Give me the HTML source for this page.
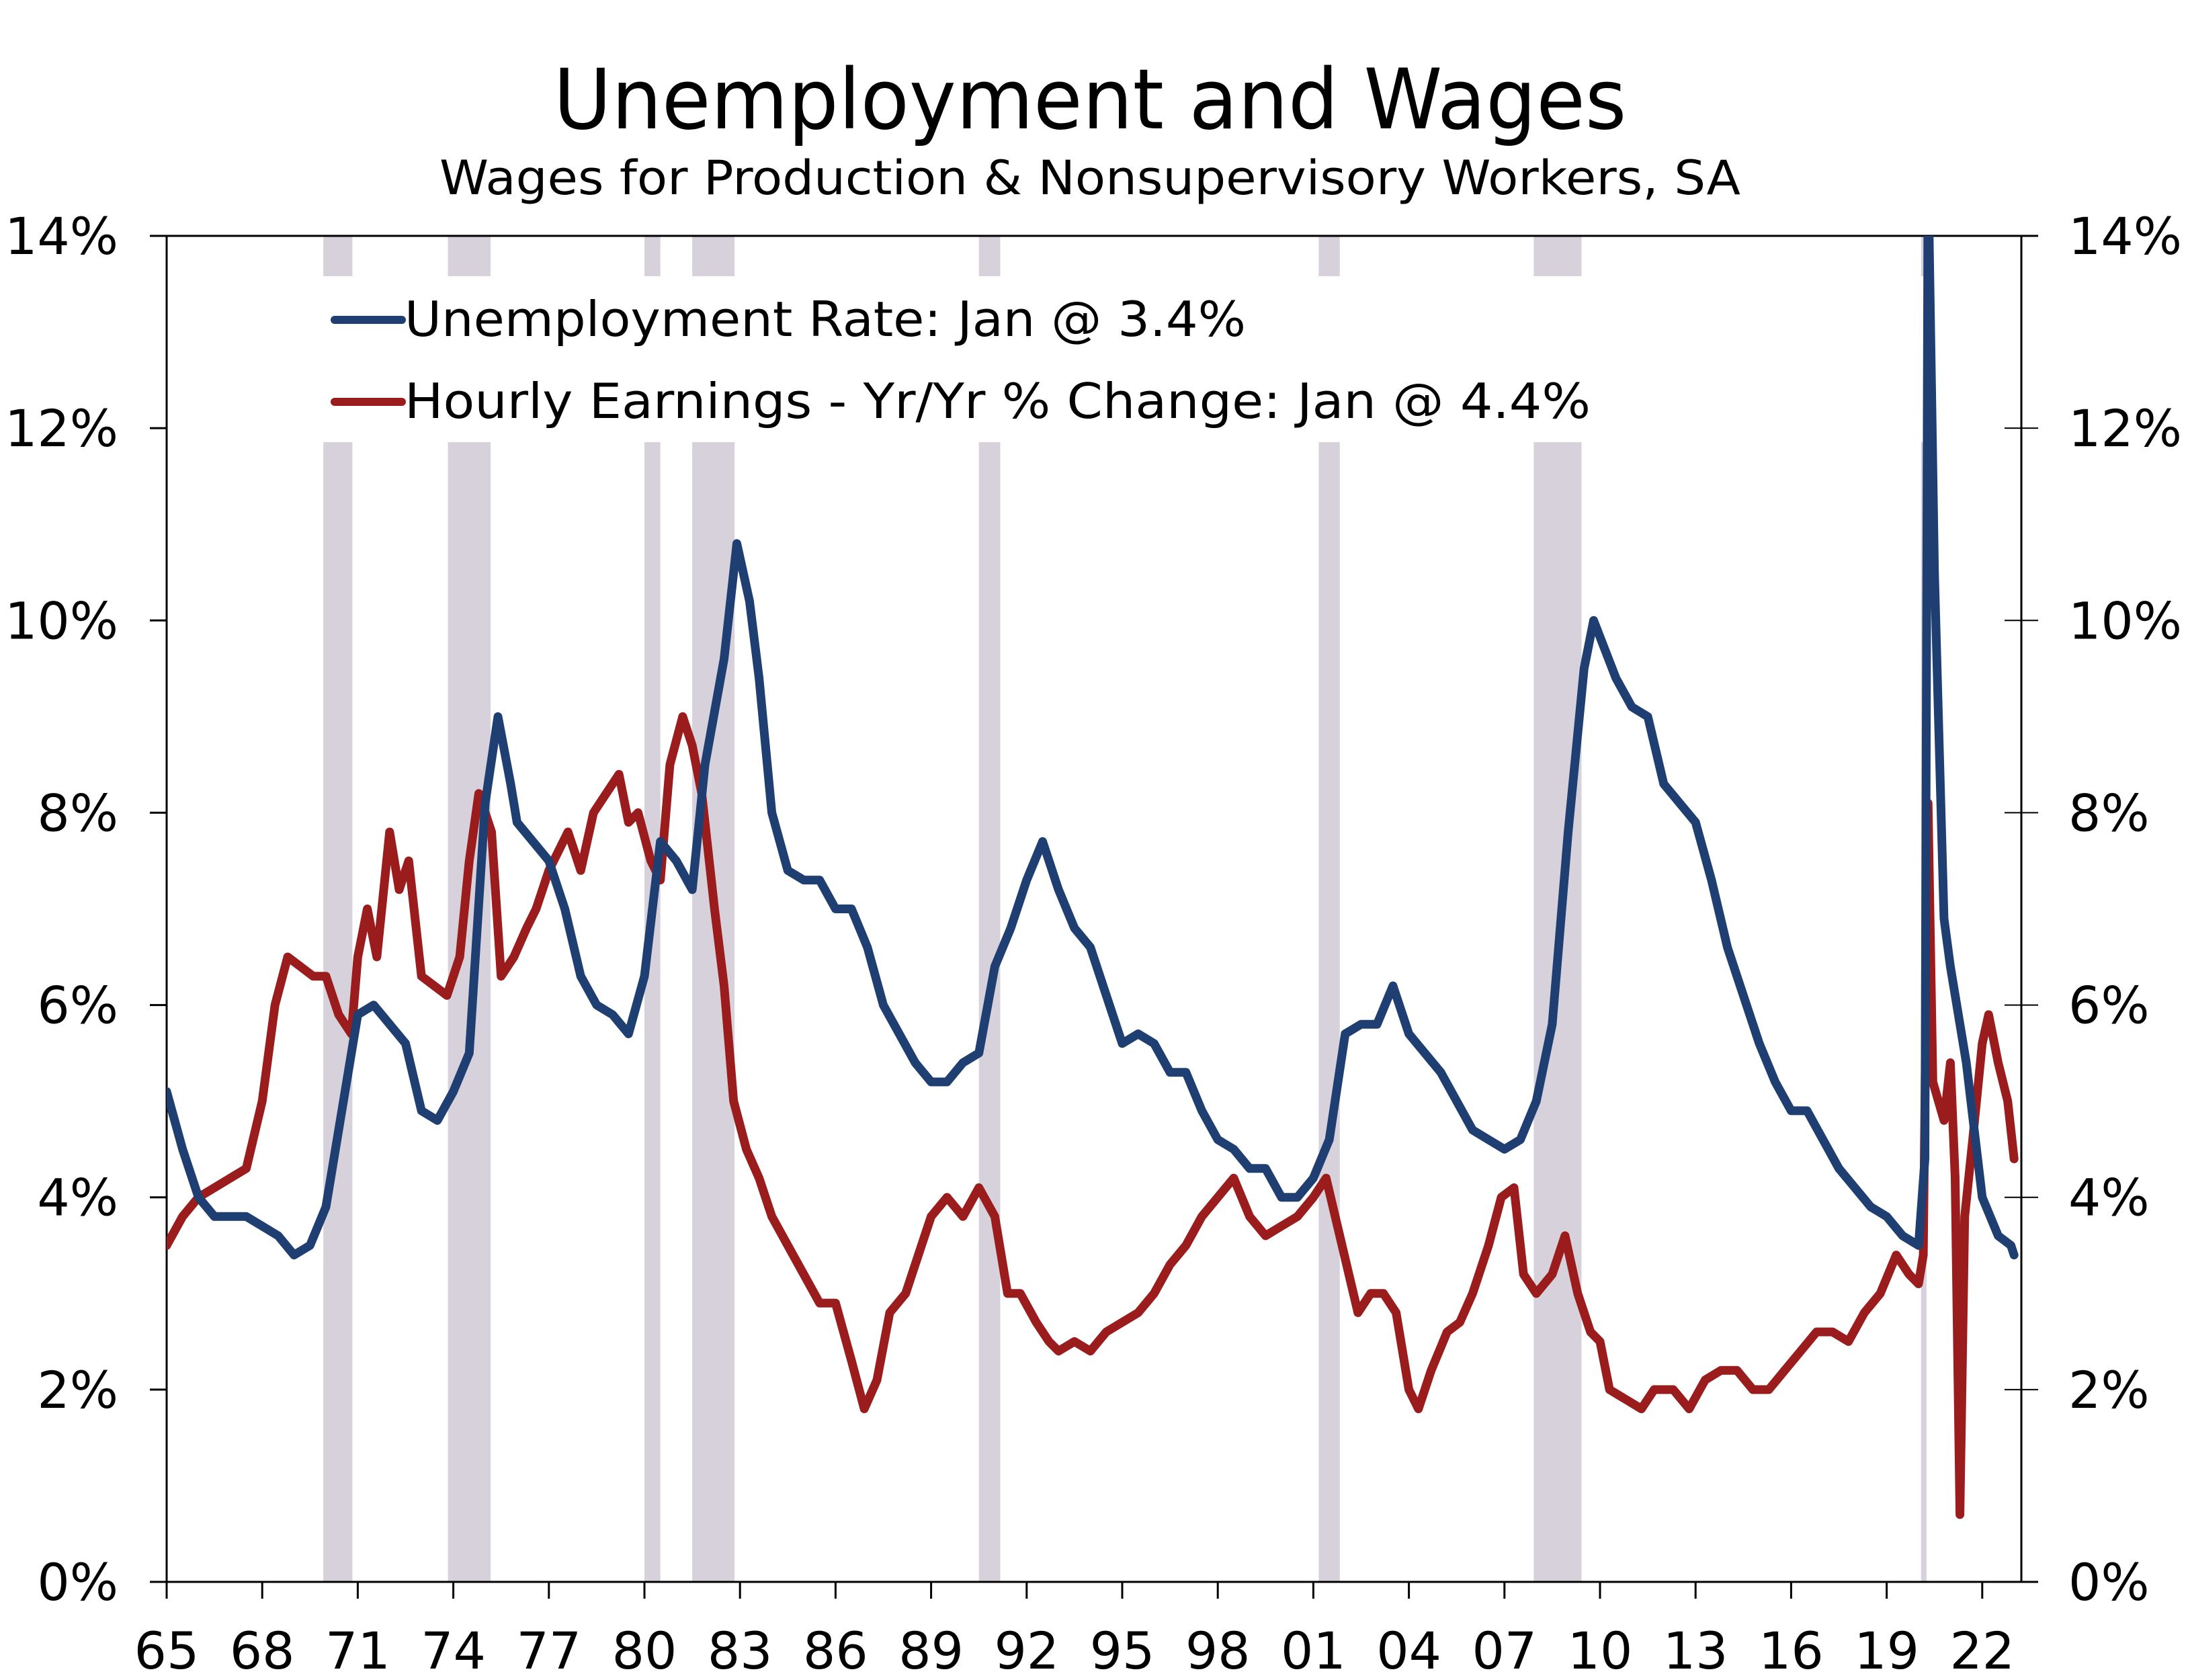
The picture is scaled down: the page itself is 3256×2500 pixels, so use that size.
<!DOCTYPE html>
<html><head><meta charset="utf-8"><title>Unemployment and Wages</title>
<style>html,body{margin:0;padding:0;background:#fff}svg{display:block}text{font-family:"DejaVu Sans","Liberation Sans",sans-serif;fill:#000}</style>
</head><body>
<svg id="chart" width="3256" height="2500" viewBox="0 0 3256 2500" xmlns="http://www.w3.org/2000/svg">
<defs><clipPath id="plotclip"><rect x="248" y="351" width="2760" height="2003"/></clipPath></defs>
<text x="1622" y="191" font-size="124" text-anchor="middle" textLength="1597" lengthAdjust="spacingAndGlyphs">Unemployment and Wages</text>
<text x="1622" y="289" font-size="70" text-anchor="middle" textLength="1936" lengthAdjust="spacingAndGlyphs">Wages for Production &amp; Nonsupervisory Workers, SA</text>
<g id="bands"></g>
<g id="axes"></g>
<g id="series" clip-path="url(#plotclip)"></g>
<g>
<g><line x1="498" y1="476" x2="598" y2="476" stroke="#1f3f73" stroke-width="12" stroke-linecap="round"/><text x="602" y="500" font-size="72" textLength="1252" lengthAdjust="spacingAndGlyphs">Unemployment Rate: Jan @ 3.4%</text></g>
<g><line x1="498" y1="598" x2="598" y2="598" stroke="#9b1c1c" stroke-width="12" stroke-linecap="round"/><text x="602" y="622" font-size="72" textLength="1765" lengthAdjust="spacingAndGlyphs">Hourly Earnings - Yr/Yr % Change: Jan @ 4.4%</text></g>
</g>
</svg>
<script>
const recStart=[1969.92,1973.83,1980.0,1981.5,1990.5,2001.17,2007.92,2020.08];
const recEnd=[1970.83,1975.17,1980.5,1982.83,1991.17,2001.83,2009.42,2020.25];
const yTicks=[0,2,4,6,8,10,12,14];
const xTickYears=[1965,1968,1971,1974,1977,1980,1983,1986,1989,1992,1995,1998,2001,2004,2007,2010,2013,2016,2019,2022];
const unDates=[1965.0,1965.5,1966.0,1966.5,1967.0,1967.5,1968.0,1968.5,1969.0,1969.5,1970.0,1970.5,1971.0,1971.5,1972.0,1972.5,1973.0,1973.5,1974.0,1974.5,1975.0,1975.4,1975.8,1976.0,1976.5,1977.0,1977.5,1978.0,1978.5,1979.0,1979.5,1980.0,1980.5,1981.0,1981.5,1981.9,1982.5,1982.9,1983.3,1983.6,1984.0,1984.5,1985.0,1985.5,1986.0,1986.5,1987.0,1987.5,1988.0,1988.5,1989.0,1989.5,1990.0,1990.5,1991.0,1991.5,1992.0,1992.5,1993.0,1993.5,1994.0,1994.5,1995.0,1995.5,1996.0,1996.5,1997.0,1997.5,1998.0,1998.5,1999.0,1999.5,2000.0,2000.5,2001.0,2001.5,2002.0,2002.5,2003.0,2003.5,2004.0,2004.5,2005.0,2005.5,2006.0,2006.5,2007.0,2007.5,2008.0,2008.5,2009.0,2009.5,2009.8,2010.5,2011.0,2011.5,2012.0,2012.5,2013.0,2013.5,2014.0,2014.5,2015.0,2015.5,2016.0,2016.5,2017.0,2017.5,2018.0,2018.5,2019.0,2019.5,2020.0,2020.2,2020.3,2020.5,2020.8,2021.0,2021.5,2022.0,2022.5,2022.9,2023.0];
const unValues=[5.1,4.5,4.0,3.8,3.8,3.8,3.7,3.6,3.4,3.5,3.9,4.9,5.9,6.0,5.8,5.6,4.9,4.8,5.1,5.5,8.1,9.0,8.3,7.9,7.7,7.5,7.0,6.3,6.0,5.9,5.7,6.3,7.7,7.5,7.2,8.5,9.6,10.8,10.2,9.4,8.0,7.4,7.3,7.3,7.0,7.0,6.6,6.0,5.7,5.4,5.2,5.2,5.4,5.5,6.4,6.8,7.3,7.7,7.2,6.8,6.6,6.1,5.6,5.7,5.6,5.3,5.3,4.9,4.6,4.5,4.3,4.3,4.0,4.0,4.2,4.6,5.7,5.8,5.8,6.2,5.7,5.5,5.3,5.0,4.7,4.6,4.5,4.6,5.0,5.8,7.8,9.5,10.0,9.4,9.1,9.0,8.3,8.1,7.9,7.3,6.6,6.1,5.6,5.2,4.9,4.9,4.6,4.3,4.1,3.9,3.8,3.6,3.5,4.4,14.7,10.5,6.9,6.4,5.4,4.0,3.6,3.5,3.4];
const wgDates=[1965,1965.5,1966,1966.5,1967,1967.5,1968,1968.4,1968.8,1969.2,1969.6,1970.0,1970.4,1970.8,1971.0,1971.3,1971.6,1972.0,1972.3,1972.6,1973.0,1973.4,1973.8,1974.2,1974.5,1974.8,1975.2,1975.5,1975.9,1976.3,1976.6,1977.0,1977.3,1977.6,1978.0,1978.4,1978.8,1979.2,1979.5,1979.8,1980.2,1980.5,1980.8,1981.2,1981.5,1981.8,1982.2,1982.5,1982.8,1983.2,1983.6,1984.0,1984.5,1985.0,1985.5,1986.0,1986.5,1986.9,1987.3,1987.7,1988.2,1988.6,1989.0,1989.5,1990.0,1990.5,1991.0,1991.4,1991.8,1992.3,1992.7,1993.0,1993.5,1994.0,1994.5,1995.0,1995.5,1996.0,1996.5,1997.0,1997.5,1998.0,1998.5,1999.0,1999.5,2000.0,2000.5,2001.0,2001.4,2001.9,2002.4,2002.8,2003.2,2003.6,2004.0,2004.3,2004.7,2005.2,2005.6,2006.0,2006.5,2006.9,2007.3,2007.6,2008.0,2008.5,2008.9,2009.3,2009.7,2010.0,2010.3,2010.8,2011.3,2011.7,2012.3,2012.8,2013.3,2013.8,2014.3,2014.8,2015.3,2015.8,2016.3,2016.8,2017.3,2017.8,2018.3,2018.8,2019.3,2019.7,2020.0,2020.15,2020.3,2020.45,2020.8,2021.0,2021.15,2021.3,2021.45,2021.7,2022.0,2022.2,2022.5,2022.8,2023.0];
const wgValues=[3.5,3.8,4.0,4.1,4.2,4.3,5.0,6.0,6.5,6.4,6.3,6.3,5.9,5.7,6.5,7.0,6.5,7.8,7.2,7.5,6.3,6.2,6.1,6.5,7.5,8.2,7.8,6.3,6.5,6.8,7.0,7.4,7.6,7.8,7.4,8.0,8.2,8.4,7.9,8.0,7.5,7.3,8.5,9.0,8.7,8.2,7.0,6.2,5.0,4.5,4.2,3.8,3.5,3.2,2.9,2.9,2.3,1.8,2.1,2.8,3.0,3.4,3.8,4.0,3.8,4.1,3.8,3.0,3.0,2.7,2.5,2.4,2.5,2.4,2.6,2.7,2.8,3.0,3.3,3.5,3.8,4.0,4.2,3.8,3.6,3.7,3.8,4.0,4.2,3.5,2.8,3.0,3.0,2.8,2.0,1.8,2.2,2.6,2.7,3.0,3.5,4.0,4.1,3.2,3.0,3.2,3.6,3.0,2.6,2.5,2.0,1.9,1.8,2.0,2.0,1.8,2.1,2.2,2.2,2.0,2.0,2.2,2.4,2.6,2.6,2.5,2.8,3.0,3.4,3.2,3.1,3.4,8.1,5.2,4.8,5.4,4.2,0.7,3.8,4.6,5.6,5.9,5.4,5.0,4.4];

const L=248,R=3008,T=351,B=2354,X0=1965,PX=47.4;
const xs=d=>L+(d-X0)*PX;
const ys=v=>B-(v/14)*(B-T);
const NS='http://www.w3.org/2000/svg';
function mk(tag,attrs,parent){const e=document.createElementNS(NS,tag);for(const k in attrs)e.setAttribute(k,attrs[k]);parent.appendChild(e);return e;}
const bands=document.getElementById('bands'),axes=document.getElementById('axes'),series=document.getElementById('series');
for(let i=0;i<recStart.length;i++){
  const x1=xs(recStart[i]),w=Math.max(8,xs(recEnd[i])-x1);
  const r1=mk('rect',{x:x1,y:T,width:w,height:411-T,fill:'#d6d1da'},bands);
  
  
  const r2=mk('rect',{x:x1,y:658,width:w,height:B-658,fill:'#d6d1da'},bands);
  
  
}
mk('line',{x1:L,y1:T,x2:L,y2:B,stroke:'#000','stroke-width':3},axes);
mk('line',{x1:R,y1:T,x2:R,y2:B,stroke:'#000','stroke-width':3},axes);
mk('line',{x1:L-25,y1:B,x2:R+25,y2:B,stroke:'#000','stroke-width':3},axes);
mk('line',{x1:L,y1:T,x2:R+25,y2:T,stroke:'#000','stroke-width':3},axes);
yTicks.forEach(v=>{
  const y=ys(v);
  mk('line',{x1:L-25,y1:y,x2:L,y2:y,stroke:'#000','stroke-width':3},axes);
  mk('line',{x1:R-25,y1:y,x2:R+25,y2:y,stroke:'#000','stroke-width':2},axes);
  const t1=mk('text',{x:176,y:y+27,'font-size':76,'text-anchor':'end'},axes);t1.textContent=v+'%';
  
  
  const t2=mk('text',{x:3078,y:y+27,'font-size':76,'text-anchor':'start'},axes);t2.textContent=v+'%';
  
  
});
xTickYears.forEach(yr=>{
  const x=xs(yr);
  mk('line',{x1:x,y1:B,x2:x,y2:B+25,stroke:'#000','stroke-width':3},axes);
  const t=mk('text',{x:x,y:2483,'font-size':76,'text-anchor':'middle'},axes);t.textContent=String(yr).slice(2);
  
  
});
function line(dates,vals,color,name){
  const d=dates.map((t,i)=>(i?'L':'M')+xs(t).toFixed(1)+' '+ys(vals[i]).toFixed(1)).join(' ');
  const p=mk('path',{d:d,fill:'none',stroke:color,'stroke-width':13,'stroke-linejoin':'round','stroke-linecap':'round'},series);
  
  
}
line(wgDates,wgValues,'#9b1c1c','hourly-earnings-line');
line(unDates,unValues,'#1f3f73','unemployment-rate-line');
</script>
</body></html>
